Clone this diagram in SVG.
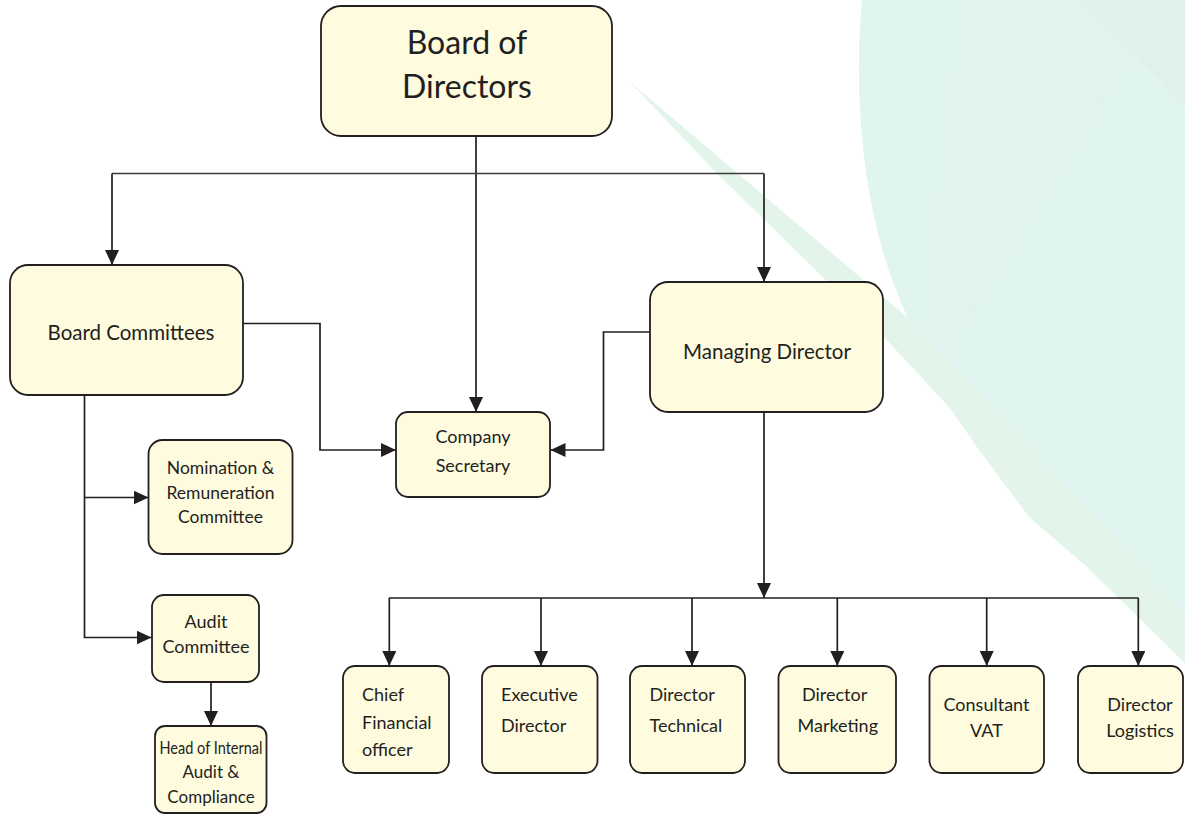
<svg xmlns="http://www.w3.org/2000/svg" width="1185" height="814" viewBox="0 0 1185 814">
<style>
.node rect{fill:#fefbdf;stroke:#231f20;stroke-width:1.8}
.node text{font-family:Lato,"Liberation Sans",sans-serif;fill:#231f20}
.c{fill:none;stroke:#231f20;stroke-width:1.7;marker-end:url(#ah)}
.cn{fill:none;stroke:#231f20;stroke-width:1.7}
.cg{fill:none;stroke:#3c3c3c;stroke-width:1.4}
.m{text-anchor:middle}
</style>
<defs>
<marker id="ah" markerUnits="userSpaceOnUse" markerWidth="16" markerHeight="15" refX="15" refY="7" orient="auto">
<path d="M0,0 L15,7 L0,14 Z" fill="#231f20"/>
</marker>
</defs>
<rect width="1185" height="814" fill="#ffffff"/>
<g id="background">
<path d="M862,0 C852,110 866,230 908,318 L631,83 L716.7,173 L884,337 L950,408 L977,447 L1030,518 L1085,565 L1185,663 L1185,0 Z" fill="#e0f4f0"/>
<path d="M631,83 L908,318 L947,358 L1185,612 L1185,663 L1085,565 L1030,518 L977,447 L950,408 L884,337 L716.7,173 Z" fill="#e3f5eb"/>
<path d="M965,0 L1087,0 L1135,53 L947,357 L923,333 Z" fill="#e2f2ee"/>
<path d="M1087,0 L1185,0 L1185,110 L1135,53 Z" fill="#e0f1eb"/>
</g>
<g id="connectors">
<path class="c" d="M476,136 V412"/>
<path class="cg" d="M476,173.5 H112"/>
<path class="c" d="M112,173.5 V265"/>
<path class="cg" d="M476,173.5 H764"/>
<path class="c" d="M764,173.5 V282"/>
<path class="c" d="M243,323.5 H320 V450 H396"/>
<path class="c" d="M650,332 H603.5 V450 H550.5"/>
<path class="c" d="M764,412 V598"/>
<path class="cn" d="M389,598 H1138.5"/>
<path class="c" d="M389.3,598 V666"/>
<path class="c" d="M541,598 V666"/>
<path class="c" d="M692,598 V666"/>
<path class="c" d="M837.3,598 V666"/>
<path class="c" d="M986.7,598 V666"/>
<path class="c" d="M1138.3,598 V666"/>
<path class="c" d="M84.5,395 V637.5 H151.5"/>
<path class="c" d="M84.5,497.5 H148.5"/>
<path class="c" d="M211,682 V726"/>
</g>
<g id="board-of-directors" class="node">
<rect x="321" y="6" width="291" height="130" rx="20"/>
<text class="m" x="467" y="54" font-size="32">Board of</text>
<text class="m" x="467" y="98" font-size="32">Directors</text>
</g>
<g id="board-committees" class="node">
<rect x="10" y="265" width="233" height="130" rx="18"/>
<text class="m" x="131" y="340" font-size="20.5">Board Committees</text>
</g>
<g id="company-secretary" class="node">
<rect x="396" y="412" width="154" height="85" rx="12"/>
<text class="m" x="473" y="443" font-size="18">Company</text>
<text class="m" x="473" y="472" font-size="18">Secretary</text>
</g>
<g id="managing-director" class="node">
<rect x="650" y="282" width="233" height="130" rx="18"/>
<text class="m" x="767" y="359" font-size="20.5">Managing Director</text>
</g>
<g id="nomination-committee" class="node">
<rect x="148.5" y="440" width="144" height="114" rx="14"/>
<text class="m" x="220.5" y="474" font-size="17.5">Nomination &amp;</text>
<text class="m" x="220.5" y="499" font-size="17.5">Remuneration</text>
<text class="m" x="220.5" y="523" font-size="17.5">Committee</text>
</g>
<g id="audit-committee" class="node">
<rect x="152" y="595" width="107" height="87" rx="12"/>
<text class="m" x="206" y="628" font-size="18">Audit</text>
<text class="m" x="206" y="653" font-size="18">Committee</text>
</g>
<g id="head-internal-audit" class="node">
<rect x="155" y="726" width="111.5" height="87" rx="10"/>
<text class="m" x="211" y="754" font-size="17" textLength="103" lengthAdjust="spacingAndGlyphs">Head of Internal</text>
<text class="m" x="211" y="778" font-size="17">Audit &amp;</text>
<text class="m" x="211" y="803" font-size="17">Compliance</text>
</g>
<g id="cfo" class="node">
<rect x="343" y="666" width="106" height="107" rx="12"/>
<text x="362" y="701" font-size="18">Chief</text>
<text x="362" y="728.5" font-size="18">Financial</text>
<text x="362" y="756" font-size="18">officer</text>
</g>
<g id="executive-director" class="node">
<rect x="482" y="666" width="115.5" height="107" rx="12"/>
<text x="501" y="701" font-size="18">Executive</text>
<text x="501" y="732" font-size="18">Director</text>
</g>
<g id="director-technical" class="node">
<rect x="630" y="666" width="115" height="107" rx="12"/>
<text x="649.5" y="701" font-size="18">Director</text>
<text x="649.5" y="732" font-size="18">Technical</text>
</g>
<g id="director-marketing" class="node">
<rect x="778.5" y="666" width="117.5" height="107" rx="12"/>
<text x="802" y="701" font-size="18">Director</text>
<text x="797.5" y="732" font-size="18">Marketing</text>
</g>
<g id="consultant-vat" class="node">
<rect x="929.5" y="666" width="114.5" height="107" rx="12"/>
<text class="m" x="986.5" y="711" font-size="18">Consultant</text>
<text class="m" x="986.5" y="737" font-size="18">VAT</text>
</g>
<g id="director-logistics" class="node">
<rect x="1078" y="666" width="105" height="107" rx="12"/>
<text class="m" x="1140" y="711" font-size="18">Director</text>
<text class="m" x="1140" y="737" font-size="18">Logistics</text>
</g>
</svg>
